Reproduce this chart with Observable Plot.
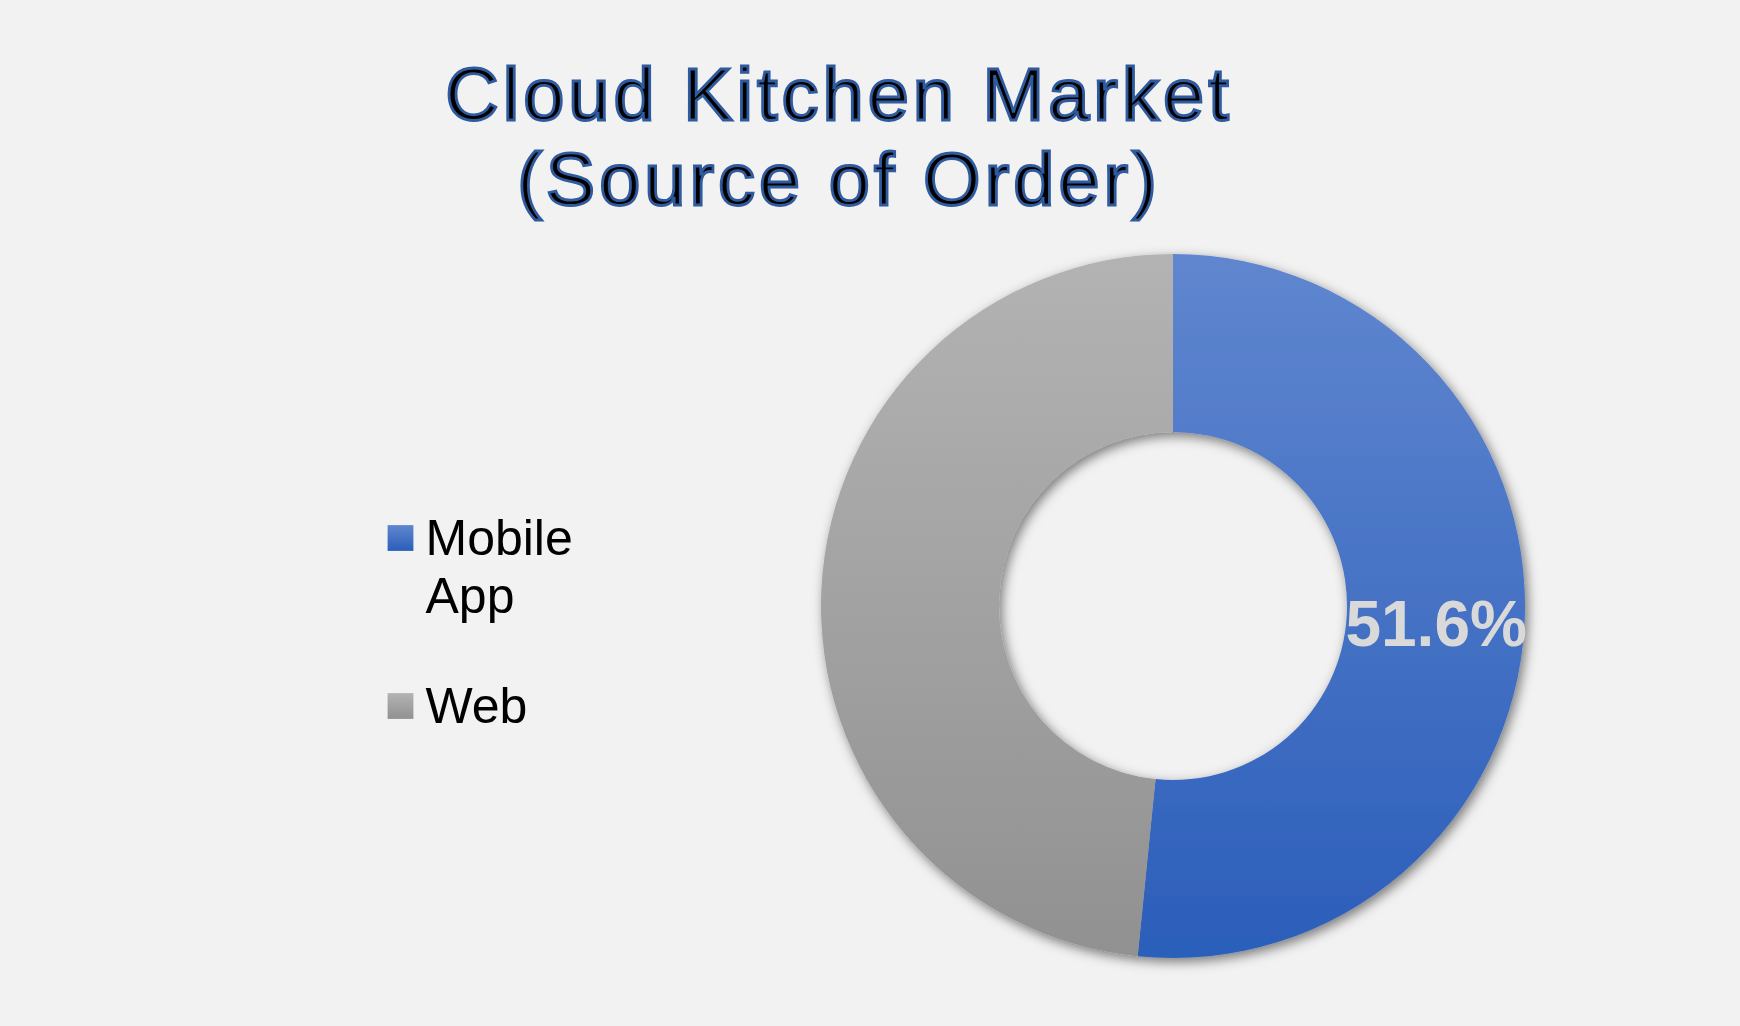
<!DOCTYPE html>
<html><head><meta charset="utf-8">
<script src="https://cdn.jsdelivr.net/npm/d3@7"></script>
<script src="https://cdn.jsdelivr.net/npm/@observablehq/plot@0.6"></script>
<style>
html,body{margin:0;padding:0;background:#F2F2F2;overflow:hidden;}
#title{width:1678px;height:230px;box-sizing:border-box;padding-top:52px;text-align:center;
  font-family:"Liberation Sans",Arial,sans-serif;font-size:74px;line-height:85px;letter-spacing:4px;color:#000;
  -webkit-text-stroke:2.8px #2F5A9E;}
#chart svg{display:block;}
</style></head><body>
<div id="title">Cloud Kitchen Market<br>(Source of Order)</div>
<div id="chart"></div>
<script>
// ---- data ----
const categories = ["Mobile App", "Web"];
const shares = [51.6, 48.4];
const sliceLabels = ["51.6%", ""];
const colorTop = ["#6086CF", "#B3B3B3"];
const colorBottom = ["#2B5EBA", "#919191"];

// ---- layout ----
const W = 1740, H = 796;
const CX = 1173, CY = 376, R_OUT = 352, R_IN = 174;
const gradIds = categories.map((c, i) => "grad" + i);

const pie = d3.pie().sort(null).value(d => d)(shares);
const arcGen = d3.arc().innerRadius(R_IN).outerRadius(R_OUT);

function donut(index, scales) {
  const cx = scales.x(CX), cy = scales.y(CY);
  const g = d3.create("svg:g");
  const defs = g.append("defs");
  categories.forEach((c, i) => {
    const lg = defs.append("linearGradient").attr("id", gradIds[i])
      .attr("x1", 0).attr("y1", 0).attr("x2", 0).attr("y2", 1);
    lg.append("stop").attr("offset", "0%").attr("stop-color", colorTop[i]);
    lg.append("stop").attr("offset", "100%").attr("stop-color", colorBottom[i]);
  });
  const f = defs.append("filter").attr("id", "shadow")
    .attr("x", "-20%").attr("y", "-20%").attr("width", "140%").attr("height", "140%");
  f.append("feDropShadow").attr("dx", 3).attr("dy", 4).attr("stdDeviation", 6)
    .attr("flood-color", "#000").attr("flood-opacity", 0.5);
  const ring = g.append("g").attr("transform", `translate(${cx},${cy})`).attr("filter", "url(#shadow)");
  ring.selectAll("path").data(pie).join("path")
    .attr("d", arcGen)
    .attr("fill", (d, i) => `url(#${gradIds[i]})`);
  return g.node();
}

const labelIdx = d3.range(categories.length).filter(i => sliceLabels[i]);

const plot = Plot.plot({
  width: W, height: H,
  margin: 0,
  style: {background: "#F2F2F2", fontFamily: "Liberation Sans, Arial, sans-serif"},
  x: {domain: [0, W], range: [0, W], axis: null},
  y: {domain: [0, H], range: [0, H], axis: null},
  color: {domain: categories, range: gradIds.map(id => `url(#${id})`)},
  marks: [
    donut,
    Plot.text(labelIdx, {
      x: i => CX + arcGen.centroid(pie[i])[0],
      y: i => CY + arcGen.centroid(pie[i])[1],
      text: i => sliceLabels[i],
      fontSize: 64, fontWeight: "bold", fill: "#D9D9D9", dy: 6,
      fontFamily: "Liberation Sans, Arial, sans-serif"
    }),
    Plot.dot(categories, {
      x: 400, y: (d, i) => 307.5 + i * 168,
      symbol: "square", r: 12.9 / Math.sqrt(Math.PI) * 2, fill: d => d
    }),
    Plot.text(categories, {
      x: 425, y: (d, i) => 283 + i * 168, text: d => d,
      textAnchor: "start", lineAnchor: "top", lineWidth: 4.2, lineHeight: 1.16,
      fontSize: 50, fill: "#000", fontFamily: "Liberation Sans, Arial, sans-serif"
    })
  ]
});
document.getElementById("chart").appendChild(plot);
</script>
</body></html>
